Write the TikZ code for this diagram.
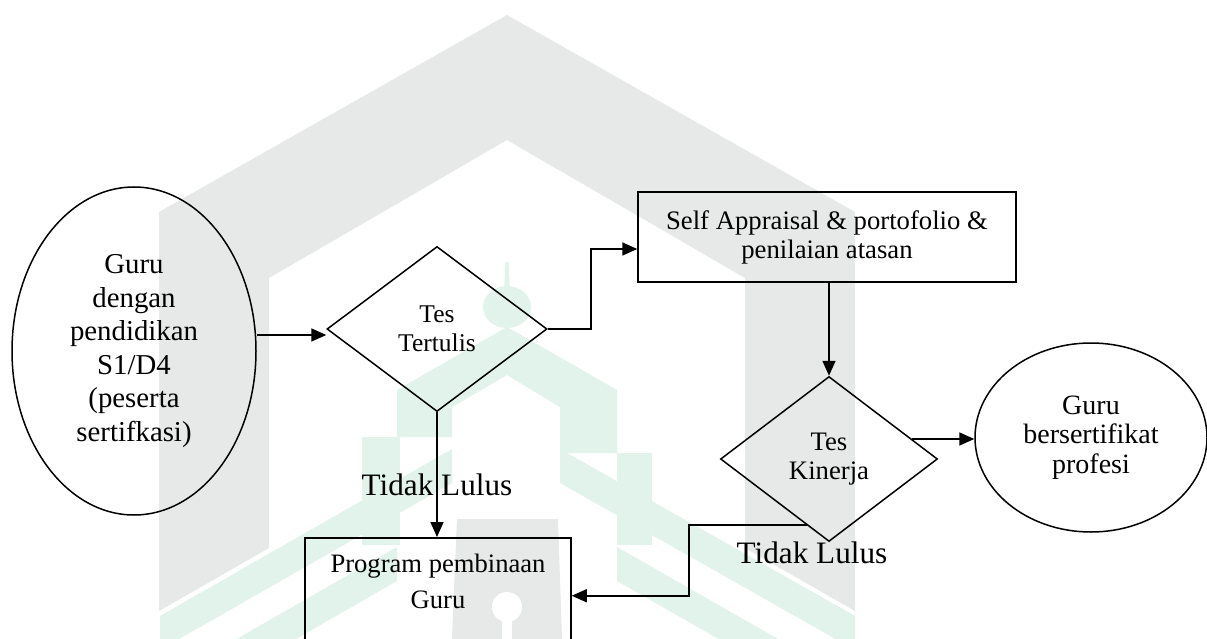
\documentclass[tikz,border=0pt]{standalone}
\usepackage{fontspec}
\setmainfont{Liberation Serif}
\usetikzlibrary{shapes.geometric,arrows.meta,calc}
\definecolor{wmgray}{RGB}{230,233,232}
\definecolor{wmgreen}{RGB}{226,243,235}
\tikzset{
  outl/.style={draw=black, line width=1.5pt, inner sep=0pt, align=center},
  arr/.style={-{Triangle[length=15pt,width=13pt]}, line width=1.7pt, draw=black},
  lbl/.style={inner sep=0pt, font=\fontsize{31.2}{34}\selectfont},
}
\begin{document}
\begin{tikzpicture}[x=1pt,y=-1pt]
\clip (0,0) rectangle (1207,639);
\fill[white] (0,0) rectangle (1207,639);
% ---- watermark ----
\fill[wmgray] (159,611)--(159,212)--(507,15)--(855,212)--(855,611)--(745,548)--(745,278)--(507,140)--(269,278)--(269,548)--cycle;
\fill[wmgreen] (505.5,262)--(508.5,262)--(510,290)--(504,290)--cycle;
\fill[wmgreen] (507,307) ellipse [x radius=24, y radius=21];
\fill[wmgreen] (397,390)--(507,327)--(617,390)--(617,453)--(560,453)--(560,407)--(507,375)--(452,407)--(452,437)--(397,437)--cycle;
\fill[wmgreen] (362,437) rectangle (400,545);
\fill[wmgreen] (617,453) rectangle (652,545);
\fill[wmgreen] (452,449)--(160,616)--(160,650)--(452,483)--cycle;
\fill[wmgreen] (560,449)--(855,616)--(855,650)--(560,483)--cycle;
\fill[wmgreen] (397,547)--(160,683)--(160,717)--(397,581)--cycle;
\fill[wmgreen] (617,547)--(855,683)--(855,717)--(617,581)--cycle;
\fill[wmgray] (457,519)--(558,519)--(562,639)--(452,639)--cycle;
\fill[white] (507,607) circle (15);
\fill[white] (502,607) rectangle (512,639);
% ---- diagram ----
\node[outl, ellipse, minimum width=244pt, minimum height=328pt,
      font=\fontsize{28.8}{33.6}\selectfont] (g1) at (134,351)
  {Guru\\dengan\\pendidikan\\S1/D4\\(peserta\\sertifkasi)};
\node[outl, diamond, minimum width=220pt, minimum height=165pt,
      font=\fontsize{25.5}{29}\selectfont] (tt) at (437,329) {Tes\\Tertulis};
\node[outl, rectangle, minimum width=378pt, minimum height=90pt,
      font=\fontsize{26.7}{29}\selectfont] (sa) at (827,237)
  {Self Appraisal \& portofolio \&\\penilaian atasan};
\node[outl, diamond, minimum width=217pt, minimum height=165pt,
      font=\fontsize{26.7}{29}\selectfont] (tk) at (829,459) {Tes\\Kinerja};
\node[outl, ellipse, minimum width=232pt, minimum height=189pt,
      font=\fontsize{28}{29.5}\selectfont] (gb) at (1091,437.5)
  {Guru\\bersertifikat\\profesi};
\node[outl, rectangle, minimum width=266pt, minimum height=150pt, anchor=north] (pg) at (438,537) {};
\node[inner sep=0pt, align=center, font=\fontsize{26.6}{36}\selectfont] (pgt) at (438,581)
  {Program pembinaan\\Guru};
\node[lbl] (tl1) at (437,485) {Tidak Lulus};
\node[lbl] (tl2) at (812,553) {Tidak Lulus};
\coordinate (m1) at (591,300);
\coordinate (m2) at (689,560);
\coordinate (k1) at ($(tk.east)+(-26pt,20pt)$);
\coordinate (k2) at ($(tk.south)+(-22pt,17pt)$);
% ---- connectors ----
\draw[arr] ([yshift=16pt]g1.east) -- ([yshift=-6pt]tt.west);
\draw[arr] (tt.east) -| (m1) |- ([yshift=-12pt]sa.west);
\draw[arr] (sa.south -| tk.north) -- (tk.north);
\draw[arr] (k1) -- (k1 -| gb.west);
\draw[arr] (tt.south) -- (tt.south |- pg.north);
\draw[arr] (k2) -| (m2) |- ([yshift=17pt]pg.east);
\end{tikzpicture}
\end{document}
